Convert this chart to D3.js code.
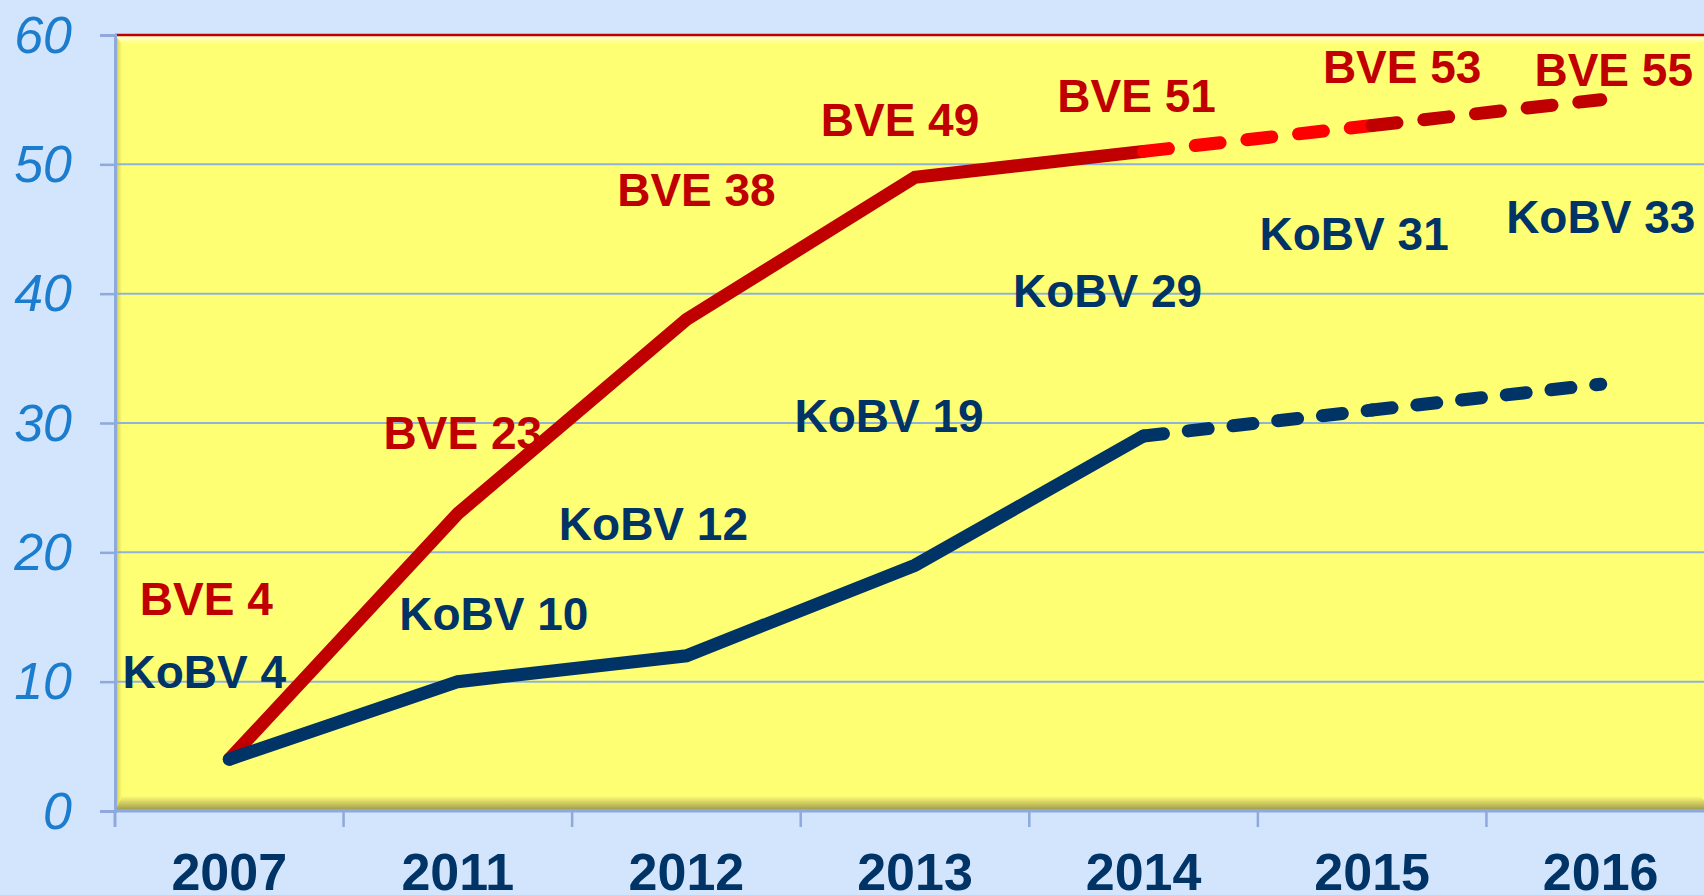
<!DOCTYPE html>
<html>
<head>
<meta charset="utf-8">
<script src="https://cdn.jsdelivr.net/npm/d3@7"></script>
<style>
  html, body { margin: 0; padding: 0; background: #D3E5FC; overflow: hidden; }
  svg { display: block; }
</style>
</head>
<body>
<svg id="chart" width="1704" height="895"></svg>
<script>
// ---- data ----
const categories = ["2007", "2011", "2012", "2013", "2014", "2015", "2016"];
const bveValues  = [4, 23, 38, 49, 51, 53, 55];
const kobvValues = [4, 10, 12, 19, 29, 31, 33];
const yTicks     = [0, 10, 20, 30, 40, 50, 60];
const bveLabelPrefix = "BVE";
const kobvLabelPrefix = "KoBV";
const lastActualIndex = 4; // 2014: solid up to here, dashed after

// ---- label placement nudges (px, relative to the data point) ----
const bveNudge  = [[-23,-144],[5,-65],[10,-114],[-15,-41],[-7,-39],[30,-43],[13,-14]];
const kobvNudge = [[-25,-71],[36,-52],[-33,-116],[-26,-133],[-36,-129],[-18,-160],[0,-151]];

const W = 1704, H = 895;
const plot = { left: 115, right: 1715, top: 35, bottom: 811 };

const svg = d3.select("#chart");
const x = d3.scaleBand().domain(categories).range([plot.left, plot.right]).padding(0);
const y = d3.scaleLinear().domain([0, 60]).range([plot.bottom, plot.top]);
const cx = c => x(c) + x.bandwidth() / 2;

const defs = svg.append("defs");
function vgrad(id, stops, x1=0,y1=0,x2=0,y2=1) {
  const g = defs.append("linearGradient").attr("id", id)
    .attr("x1", x1).attr("y1", y1).attr("x2", x2).attr("y2", y2);
  stops.forEach(s => g.append("stop").attr("offset", s[0]).attr("stop-color", s[1]).attr("stop-opacity", s[2] ?? 1));
}
vgrad("topBevel", [[0, "#FFFFD8"], [0.5, "#FFFFB0"], [1, "#FFFF73"]]);
vgrad("leftBevel", [[0, "#B8B448"], [0.5, "#E6E25E"], [1, "#FFFF73"]], 0,0,1,0);
vgrad("bottomBevel", [[0, "#FFFF73"], [0.35, "#DCD866"], [0.85, "#A6A250"], [1, "#C4C27A"]]);

// background
svg.append("rect").attr("width", W).attr("height", H).attr("fill", "#D3E5FC");

// plot area
const pw = plot.right - plot.left, ph = plot.bottom - plot.top;
svg.append("rect").attr("x", plot.left).attr("y", plot.top).attr("width", pw).attr("height", ph).attr("fill", "#FFFF73");
const bt = 9, bl = 7, bb = 15;
svg.append("polygon").attr("points", [[plot.left, plot.top],[plot.right, plot.top],[plot.right - bt, plot.top + bt],[plot.left + bl, plot.top + bt]].join(" ")).attr("fill", "url(#topBevel)");
svg.append("polygon").attr("points", [[plot.left, plot.top],[plot.left + bl, plot.top + bt],[plot.left + bl, plot.bottom - bb],[plot.left, plot.bottom]].join(" ")).attr("fill", "url(#leftBevel)");
svg.append("polygon").attr("points", [[plot.left, plot.bottom],[plot.left + bl, plot.bottom - bb],[plot.right - bb, plot.bottom - bb],[plot.right, plot.bottom]].join(" ")).attr("fill", "url(#bottomBevel)");

// gridlines
svg.append("g").selectAll("line").data(yTicks.filter(t => t > 0 && t < 60)).join("line")
  .attr("x1", plot.left).attr("x2", plot.right)
  .attr("y1", d => y(d)).attr("y2", d => y(d))
  .attr("stroke", "#8FB2DA").attr("stroke-width", 2);

// top border
svg.append("line").attr("x1", plot.left).attr("x2", plot.right).attr("y1", y(60)).attr("y2", y(60))
  .attr("stroke", "#C00000").attr("stroke-width", 2.5);

// y axis
const yAxis = svg.append("g").attr("transform", `translate(${plot.left},0)`)
  .call(d3.axisLeft(y).tickValues(yTicks).tickSize(15).tickPadding(28).tickFormat(d3.format("d")));
yAxis.select(".domain").attr("stroke", "#8EA9DB").attr("stroke-width", 3);
yAxis.selectAll(".tick line").attr("stroke", "#8EA9DB").attr("stroke-width", 2.5);
yAxis.selectAll(".tick text")
  .attr("fill", "#1C7DCF").attr("font-family", "'Liberation Sans', Arial, sans-serif")
  .attr("font-style", "italic").attr("font-size", 52).attr("dy", "0.33em");
// extend y-axis line down to the x tick length
svg.append("line").attr("x1", plot.left).attr("x2", plot.left).attr("y1", plot.bottom).attr("y2", plot.bottom + 16)
  .attr("stroke", "#8EA9DB").attr("stroke-width", 3);

// x axis line and ticks
svg.append("line").attr("x1", plot.left).attr("x2", plot.right).attr("y1", plot.bottom).attr("y2", plot.bottom)
  .attr("stroke", "#8EA9DB").attr("stroke-width", 3);
svg.append("g").selectAll("line").data(categories.slice(1)).join("line")
  .attr("x1", d => x(d)).attr("x2", d => x(d))
  .attr("y1", plot.bottom).attr("y2", plot.bottom + 16)
  .attr("stroke", "#8EA9DB").attr("stroke-width", 2.5);
svg.append("g").selectAll("text").data(categories).join("text")
  .attr("x", d => cx(d)).attr("y", 890)
  .attr("text-anchor", "middle")
  .attr("font-family", "'Liberation Sans', Arial, sans-serif").attr("font-weight", "bold")
  .attr("font-size", 52).attr("fill", "#003366")
  .text(d => d);

// data labels (behind lines)
function labels(vals, nudge, prefix, color) {
  svg.append("g").selectAll("text").data(vals).join("text")
    .attr("x", (d, i) => cx(categories[i]) + nudge[i][0])
    .attr("y", (d, i) => y(d) + nudge[i][1])
    .attr("text-anchor", "middle")
    .attr("font-family", "'Liberation Sans', Arial, sans-serif").attr("font-weight", "bold")
    .attr("font-size", 46).attr("fill", color)
    .text(d => `${prefix} ${d}`);
}
labels(bveValues, bveNudge, bveLabelPrefix, "#C00000");
labels(kobvValues, kobvNudge, kobvLabelPrefix, "#003366");

// lines
const line = d3.line().x(d => cx(d.c)).y(d => y(d.v));
function series(vals, solidColor, dashColors, dash) {
  const pts = vals.map((v, i) => ({ c: categories[i], v }));
  svg.append("path").attr("d", line(pts.slice(0, lastActualIndex + 1)))
    .attr("fill", "none").attr("stroke", solidColor).attr("stroke-width", 13)
    .attr("stroke-linejoin", "miter").attr("stroke-linecap", "round");
  for (let i = lastActualIndex; i < pts.length - 1; i++) {
    svg.append("path").attr("d", line([pts[i], pts[i + 1]]))
      .attr("fill", "none").attr("stroke", dashColors[i - lastActualIndex]).attr("stroke-width", 13)
      .attr("stroke-linecap", "round").attr("stroke-dasharray", dash);
  }
}
series(bveValues, "#C00000", ["#FF0000", "#C00000"], "25 27");
series(kobvValues, "#003366", ["#003366", "#003366"], "20 25");
</script>
</body>
</html>
